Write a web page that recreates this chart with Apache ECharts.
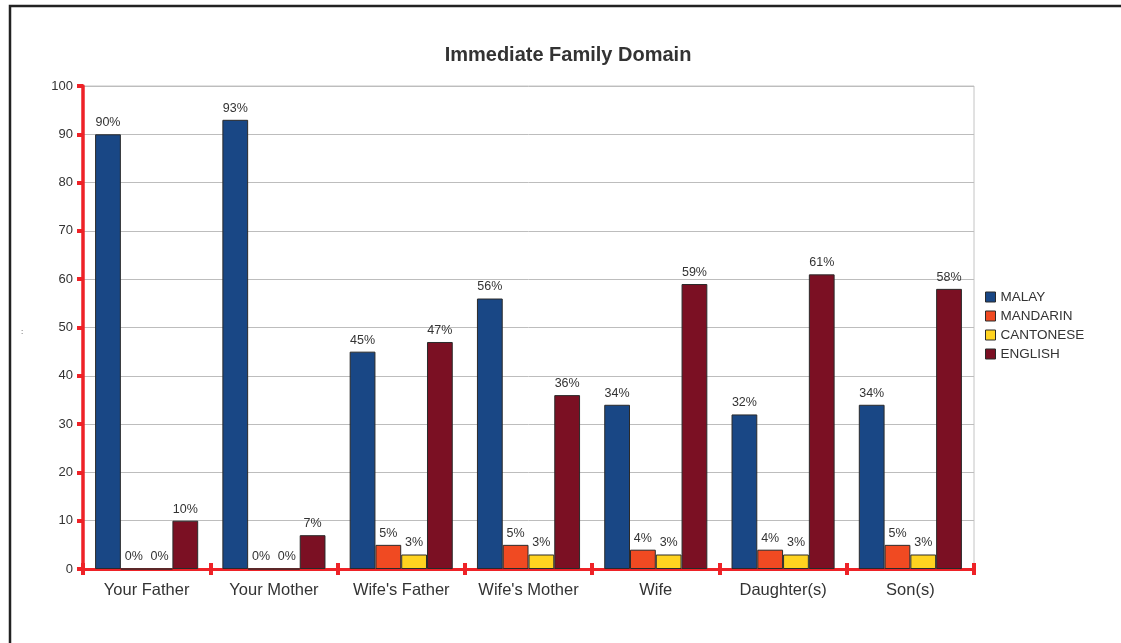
<!DOCTYPE html>
<html>
<head>
<meta charset="utf-8">
<script src="https://cdn.jsdelivr.net/npm/echarts@6/dist/echarts.min.js"></script>
<style>
  html, body { margin: 0; padding: 0; background: #fff; }
  #chart { width: 1121px; height: 643px; }
</style>
</head>
<body>
<div id="chart"></div>
<script>
// Language spoken with each immediate family member (percent)
const categories = ["Your Father", "Your Mother", "Wife's Father", "Wife's Mother", "Wife", "Daughter(s)", "Son(s)"];
const malay     = [90, 93, 45, 56, 34, 32, 34];
const mandarin  = [0, 0, 5, 5, 4, 4, 5];
const cantonese = [0, 0, 3, 3, 3, 3, 3];
const english   = [10, 7, 47, 36, 59, 61, 58];
const seriesNames = ["MALAY", "MANDARIN", "CANTONESE", "ENGLISH"];
const seriesColors = ["#194785", "#f04a22", "#ffd320", "#7b1023"];
const yTicks = [0, 10, 20, 30, 40, 50, 60, 70, 80, 90, 100];

const FONT = "Liberation Sans, Arial, sans-serif";
const chart = echarts.init(document.getElementById('chart'));

const values = [malay, mandarin, cantonese, english];
const series = seriesNames.map((name, i) => ({
  name,
  type: 'bar',
  data: values[i],
  barGap: '0%',
  barCategoryGap: '19%',
  itemStyle: { color: seriesColors[i], borderColor: '#2a2a2a', borderWidth: 1 },
  label: {
    show: true, position: 'top', distance: 5,
    formatter: p => p.value + '%',
    fontFamily: FONT, fontSize: 12.5, color: '#333'
  }
}));

chart.setOption({
  animation: false,
  backgroundColor: '#fff',
  title: {
    text: 'Immediate Family Domain',
    left: 563, top: 40, textAlign: 'center',
    textStyle: { fontFamily: FONT, fontSize: 20, fontWeight: 'bold', color: '#333' }
  },
  legend: {
    orient: 'vertical', left: 980, top: 285,
    itemWidth: 10, itemHeight: 10, itemGap: 5,
    icon: 'rect',
    data: seriesNames,
    itemStyle: { borderColor: '#2a2a2a', borderWidth: 1 },
    textStyle: { fontFamily: FONT, fontSize: 13.5, color: '#333' }
  },
  grid: {
    left: 83, right: 147, top: 86, bottom: 74,
    show: true, borderColor: '#c4c4c4', borderWidth: 1
  },
  xAxis: [{
    type: 'category', data: categories,
    axisLine: { lineStyle: { color: '#ee2227', width: 3 } },
    axisTick: { show: true, interval: 0, length: 6, lineStyle: { color: '#ee2227', width: 4 } },
    axisLabel: { interval: 0, hideOverlap: false, fontFamily: FONT, fontSize: 16.5, color: '#333', margin: 13 }
  }, {
    type: 'category', data: categories, position: 'bottom',
    axisLine: { show: false },
    axisTick: { show: true, interval: 0, inside: true, length: 6, lineStyle: { color: '#ee2227', width: 4 } },
    axisLabel: { show: false }
  }],
  yAxis: {
    type: 'value', min: 0, max: 100, interval: 10,
    axisLine: { show: true, lineStyle: { color: '#ee2227', width: 3.5 } },
    axisTick: { show: true, length: 6, lineStyle: { color: '#ee2227', width: 4 } },
    axisLabel: {
      fontFamily: FONT, fontSize: 13, color: '#333', margin: 10,
      formatter: v => yTicks.includes(v) ? String(v) : ''
    },
    splitLine: { lineStyle: { color: '#bdbdbd', width: 1 } }
  },
  graphic: [
    {
      type: 'rect', silent: true, z: -1,
      shape: { x: 10, y: 6, width: 1140, height: 700 },
      style: { fill: 'none', stroke: '#222', lineWidth: 2.5 }
    },
    {
      type: 'text', left: 21, top: 328,
      style: { text: ':', fontFamily: FONT, fontSize: 8, fill: '#333' }
    }
  ],
  series
});
</script>
</body>
</html>
